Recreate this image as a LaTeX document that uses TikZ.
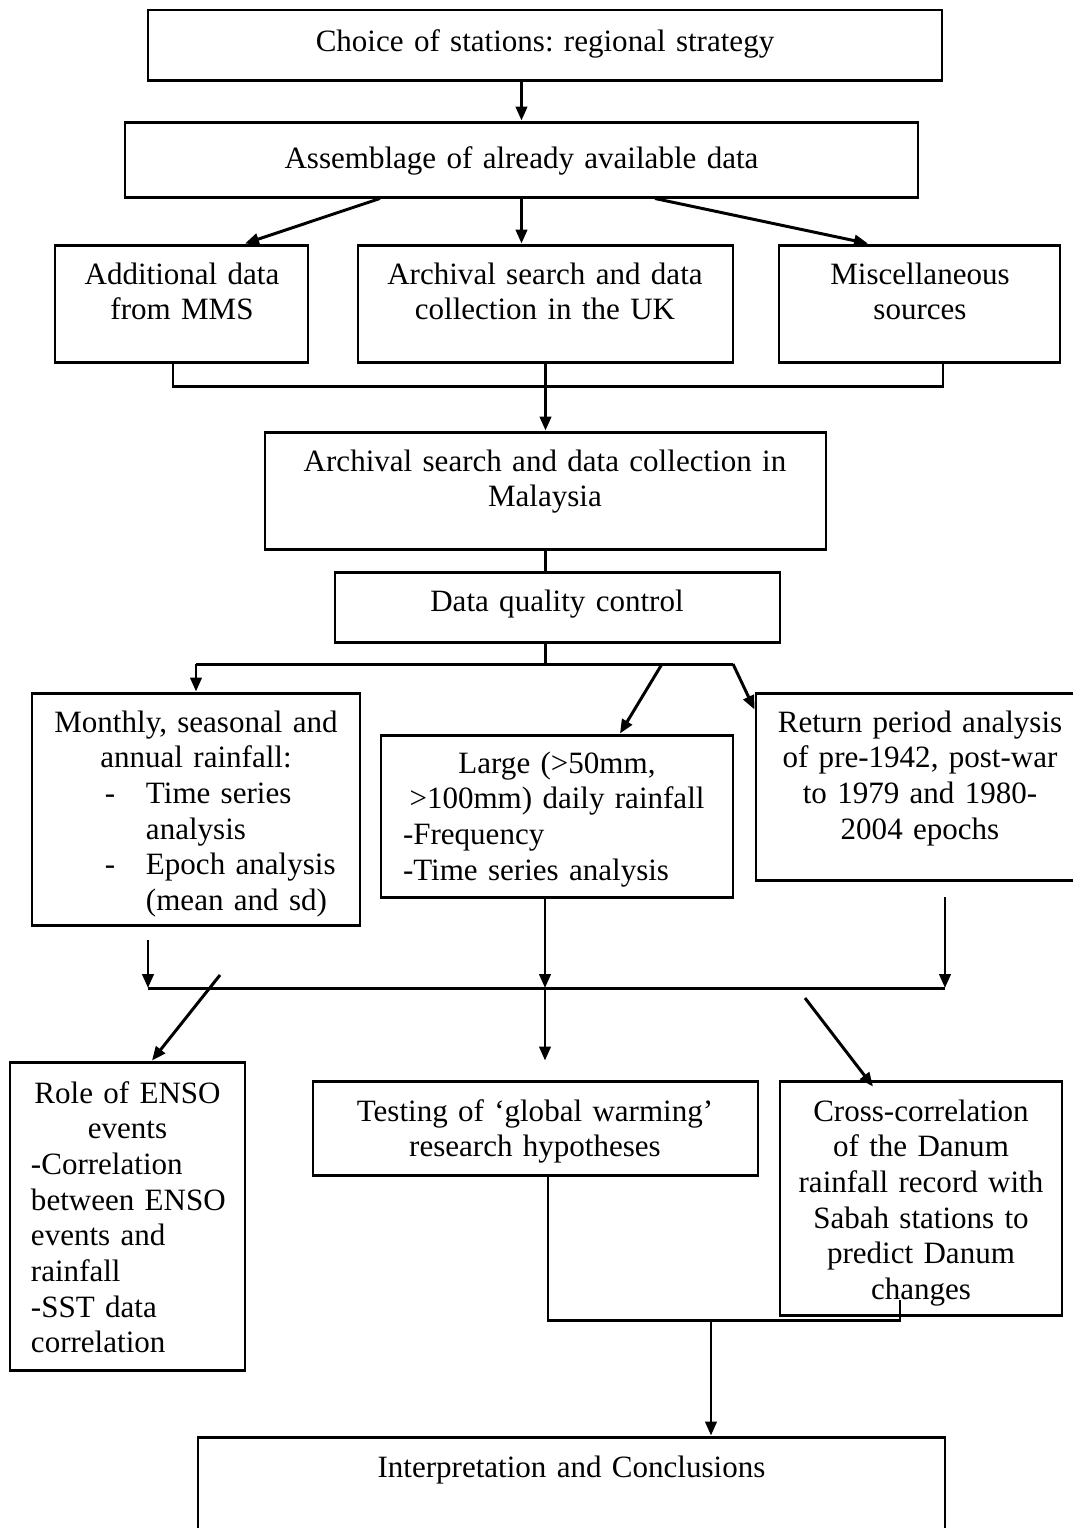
\documentclass[tikz,border=0pt]{standalone}
\usepackage{fontspec}
\setmainfont{Liberation Serif}
\usetikzlibrary{arrows.meta,fit,calc}
\newlength\px
\setlength\px{0.3867pt}
\newcommand\flushl{\par\leftskip=0pt\rightskip=0pt plus 1fil\parfillskip=0pt plus 1fil\relax}
\tikzset{
  box/.style={draw, line width=1.15pt, inner sep=0pt},
  txt/.style={anchor=base, inner sep=0pt, align=center, font=\fontsize{12}{13.8}\selectfont\frenchspacing},
  conn/.style={line width=1.15pt},
  arr/.style={conn, -{Triangle[length=5.4pt,width=4.4pt]}},
}
\begin{document}
\begin{tikzpicture}[x=0.3867pt, y=-0.3867pt]
\clip (0,0) rectangle (1073,1528);
\fill[white] (0,0) rectangle (1073,1528);

% boxes
\node[box, fit={(148,10) (942,80)}] (b1) {};
\node[box, fit={(125,122) (918,197)}] (b2) {};
\node[box, fit={(55,245) (308,362)}] (b3a) {};
\node[box, fit={(358,245) (733,362)}] (b3b) {};
\node[box, fit={(779,245) (1060,362)}] (b3c) {};
\node[box, fit={(265,432) (826,549)}] (b4) {};
\node[box, fit={(335,572) (780,642)}] (b5) {};
\node[box, fit={(32,693) (360,925)}] (b6a) {};
\node[box, fit={(381,735) (733,897)}] (b6b) {};
\node[box, fit={(756,693) (1086,880)}] (b6c) {};
\node[box, fit={(10,1062) (245,1370)}] (b7a) {};
\node[box, fit={(313,1081) (758,1175)}] (b7b) {};
\node[box, fit={(780,1081) (1062,1315)}] (b7c) {};
\node[box, fit={(198,1437) (945,1545)}] (b8) {};

% texts
\node[txt, text width=780\px] (t1) at (545,51) {Choice of stations: regional strategy};
\node[txt, text width=780\px] (t2) at (521.5,168) {Assemblage of already available data};
\node[txt, text width=245\px] (t3a) at (182,284) {Additional data\\from MMS};
\node[txt, text width=365\px] (t3b) at (545,284) {Archival search and data\\collection in the UK};
\node[txt, text width=275\px] (t3c) at (920,284) {Miscellaneous\\sources};
\node[txt, text width=550\px] (t4) at (545,471) {Archival search and data collection in\\Malaysia};
\node[txt, text width=430\px] (t5) at (557,611) {Data quality control};
\node[txt, text width=320\px] (t6a) at (196,732) {Monthly, seasonal and\\annual rainfall:\flushl
  \hspace*{69\px}\makebox[41\px][l]{-}Time series\\
  \hspace*{110\px}analysis\\
  \hspace*{69\px}\makebox[41\px][l]{-}Epoch analysis\\
  \hspace*{110\px}(mean and sd)\par};
\node[txt, text width=340\px] (t6b) at (557,773) {Large (>50mm,\\>100mm) daily rainfall\flushl
  \hspace*{16\px}-Frequency\\
  \hspace*{16\px}-Time series analysis\par};
\node[txt, text width=300\px] (t6c) at (920,732) {Return period analysis\\of pre-1942, post-war\\to 1979 and 1980-\\2004 epochs};
\node[txt, text width=225\px] (t7a) at (127.5,1103) {Role of ENSO\\events\flushl
  \hspace*{16\px}-Correlation\\
  \hspace*{16\px}between ENSO\\
  \hspace*{16\px}events and\\
  \hspace*{16\px}rainfall\\
  \hspace*{16\px}-SST data\\
  \hspace*{16\px}correlation\par};
\node[txt, text width=430\px] (t7b) at (535,1121) {Testing of `global warming'\\research hypotheses};
\node[txt, text width=275\px] (t7c) at (921,1121) {Cross-correlation\\of the Danum\\rainfall record with\\Sabah stations to\\predict Danum\\changes};
\node[txt, text width=730\px] (t8) at (571.5,1477) {Interpretation and Conclusions};

% junction coordinates
\coordinate (s5) at (545.5,664);
\coordinate (hL) at (196,664);
\coordinate (hR) at (733,664);
\coordinate (d6b) at (662,664);
\coordinate (aL) at (148,940);
\coordinate (jL) at (148,988);
\coordinate (jM) at (545,988);
\coordinate (jR) at (945,988);
\coordinate (aM) at (545,897);
\coordinate (aR) at (945,897);
\coordinate (dL) at (220,975);
\coordinate (dR) at (805,998);
\coordinate (kL) at (548,1320);
\coordinate (kR) at (900,1320);
\coordinate (kT) at (900,1300);
\coordinate (kM) at (711,1320);

% connectors
\draw[arr] (b2.north |- b1.south) -- (b2.north);
\draw[arr] ([xshift=-141.5\px]b2.south) -- ([xshift=63.5\px]b3a.north);
\draw[arr] (b2.south) -- (b2.south |- b3b.north);
\draw[arr] ([xshift=133.5\px]b2.south) -- ([xshift=-51.5\px]b3c.north);
\draw[conn] ([xshift=-8.5\px]b3a.south) -- ++(0,23) -| ([xshift=23.5\px]b3c.south);
\draw[arr] (b3b.south) -- (b4.north);
\draw[conn] (b4.south) -- (b4.south |- b5.north);
\draw[conn] (b4.south |- b5.south) -- (s5);
\draw[conn] (hL) -- (hR);
\draw[arr] (hL) -- (b6a.north);
\draw[arr] (d6b) -- ([xshift=63\px]b6b.north);
\draw[arr] (hR) -- ([yshift=-18\px]b6c.north west);
\draw[arr] (aL) -- (jL);
\draw[arr] (aM) -- (jM);
\draw[arr] (aR) -- (jR);
\draw[conn] (jL) -- (jR);
\draw[arr] (jM) -- ([yshift=19\px]jM |- b7b.north);
\draw[arr] (dL) -- ([xshift=24.5\px]b7a.north);
\draw[arr] (dR) -- ([xshift=-48\px,yshift=-7\px]b7c.north);
\draw[conn] (kL |- b7b.south) -- (kL) -- (kR) -- (kT);
\draw[arr] (kM) -- (kM |- b8.north);
\end{tikzpicture}
\end{document}
